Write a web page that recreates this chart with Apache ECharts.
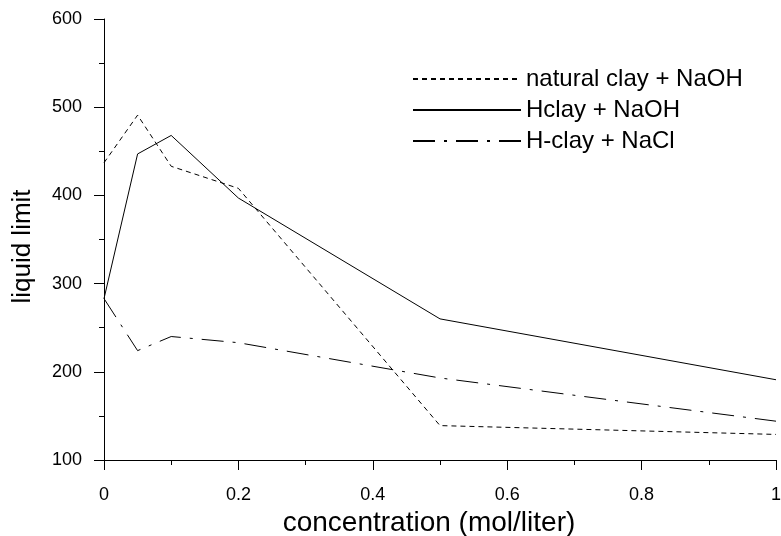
<!DOCTYPE html>
<html>
<head>
<meta charset="utf-8">
<script src="https://cdn.jsdelivr.net/npm/echarts@6/dist/echarts.min.js"></script>
<style>
  html, body { margin: 0; padding: 0; background: #fff; }
  #chart { width: 781px; height: 536px; }
</style>
</head>
<body>
<div id="chart"></div>
<script>
// concentration (mol/liter)
const concentration = [0, 0.05, 0.1, 0.2, 0.5, 1]
const naturalClayNaOH = [437, 491, 433, 408, 139, 129]
const hClayNaOH = [283, 447, 468, 397, 260, 191]
const hClayNaCl = [283, 224, 240, 233, 193, 144]

const chart = echarts.init(document.getElementById('chart'))

function pairs(ys) {
  return concentration.map((x, i) => [x, ys[i]])
}

const font = 'Liberation Sans, Arial, sans-serif'

chart.setOption({
  animation: false,
  backgroundColor: '#fff',
  grid: { left: 104, right: 5, top: 19, bottom: 76, outerBoundsMode: 'none', containLabel: false },
  legend: {
    left: 407,
    top: 62,
    orient: 'vertical',
    itemWidth: 108,
    itemHeight: 12,
    itemGap: 7,
    itemStyle: { opacity: 0 },
    textStyle: { fontFamily: font, fontSize: 24, color: '#000' },
    data: ['natural clay + NaOH', 'Hclay + NaOH', 'H-clay + NaCl']
  },
  xAxis: {
    type: 'value',
    min: 0,
    max: 1,
    interval: 0.2,
    name: 'concentration (mol/liter)',
    nameLocation: 'middle',
    nameGap: 46,
    nameTextStyle: { fontFamily: font, fontSize: 28, color: '#000', padding: [0, 22, 0, 0] },
    axisLine: { lineStyle: { color: '#000', width: 1 } },
    axisTick: { length: 10, lineStyle: { color: '#000' } },
    minorTick: { show: true, splitNumber: 2, length: 5, lineStyle: { color: '#000' } },
    axisLabel: { fontFamily: font, fontSize: 18, color: '#000', margin: 26 },
    splitLine: { show: false }
  },
  yAxis: {
    type: 'value',
    min: 100,
    max: 600,
    interval: 100,
    name: 'liquid limit',
    nameLocation: 'middle',
    nameGap: 68,
    nameTextStyle: { fontFamily: font, fontSize: 26, color: '#000', padding: [0, 14, 0, 0] },
    axisLine: { show: true, lineStyle: { color: '#000', width: 1 } },
    axisTick: { show: true, length: 10, lineStyle: { color: '#000' } },
    minorTick: { show: true, splitNumber: 2, length: 5, lineStyle: { color: '#000' } },
    axisLabel: { fontFamily: font, fontSize: 18, color: '#000', margin: 22 },
    splitLine: { show: false }
  },
  series: [
    {
      name: 'natural clay + NaOH',
      type: 'line',
      data: pairs(naturalClayNaOH),
      symbol: 'none',
      itemStyle: { color: '#000' },
      lineStyle: { color: '#000', width: 1, type: [5, 4] }
    },
    {
      name: 'Hclay + NaOH',
      type: 'line',
      data: pairs(hClayNaOH),
      symbol: 'none',
      itemStyle: { color: '#000' },
      lineStyle: { color: '#000', width: 1, type: 'solid' }
    },
    {
      name: 'H-clay + NaCl',
      type: 'line',
      data: pairs(hClayNaCl),
      symbol: 'none',
      itemStyle: { color: '#000' },
      lineStyle: { color: '#000', width: 1, type: [22, 9, 3, 9] }
    }
  ]
})
</script>
</body>
</html>
